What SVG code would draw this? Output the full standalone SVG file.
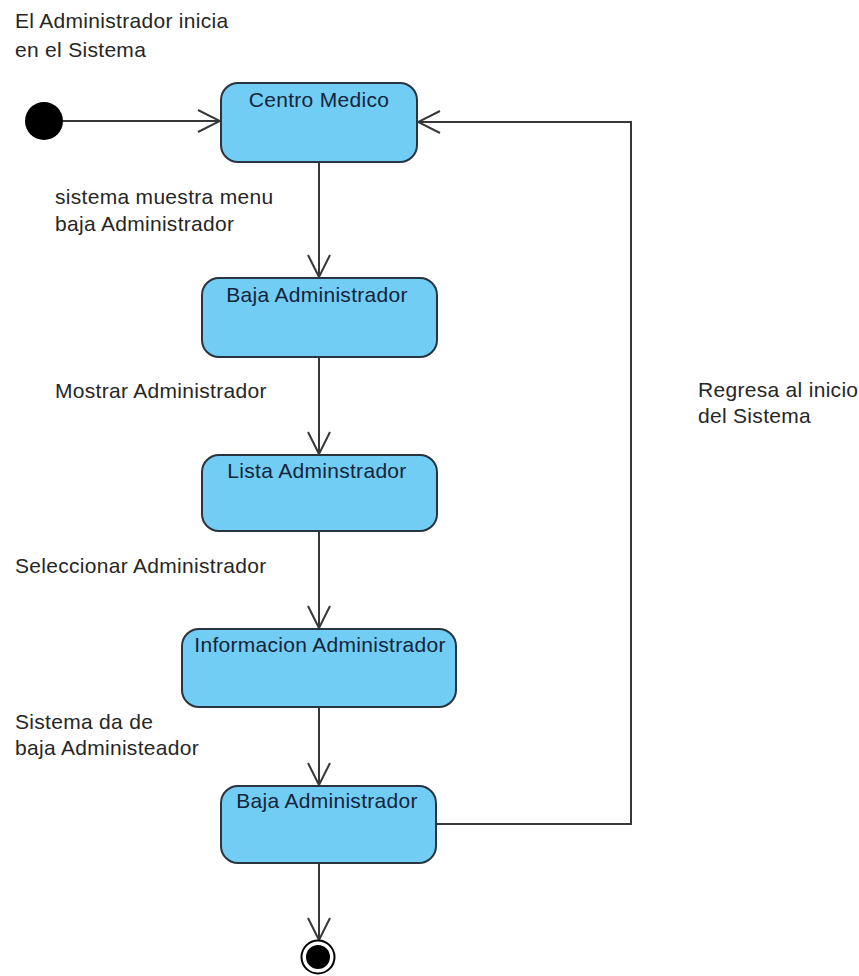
<svg xmlns="http://www.w3.org/2000/svg" width="859" height="976" viewBox="0 0 859 976">
  <style>
    .state { fill: #72cdf4; stroke: #2a3440; stroke-width: 2; }
    .state-label { font-family: "Liberation Sans", Arial, sans-serif; font-size: 21px; letter-spacing: 0.3px; fill: #14243a; text-anchor: middle; }
    .label { font-family: "Liberation Sans", Arial, sans-serif; font-size: 21px; letter-spacing: 0.3px; fill: #262626; }
    .flow { fill: none; stroke: #383838; stroke-width: 2; }
  </style>
  <defs>
    <marker id="open-arrow" viewBox="0 0 24 24" refX="23" refY="12" markerWidth="24" markerHeight="24" markerUnits="userSpaceOnUse" orient="auto">
      <path d="M1,1 L23,12 L1,23" fill="none" stroke="#383838" stroke-width="2"/>
    </marker>
  </defs>
  <rect width="859" height="976" fill="#ffffff"/>

  <!-- transitions -->
  <g id="connectors">
    <line class="flow" x1="62" y1="121" x2="220" y2="121" marker-end="url(#open-arrow)"/>
    <line class="flow" x1="319" y1="162" x2="319" y2="277" marker-end="url(#open-arrow)"/>
    <line class="flow" x1="319" y1="357" x2="319" y2="454" marker-end="url(#open-arrow)"/>
    <line class="flow" x1="319" y1="531" x2="319" y2="628" marker-end="url(#open-arrow)"/>
    <line class="flow" x1="319" y1="707" x2="319" y2="785" marker-end="url(#open-arrow)"/>
    <line class="flow" x1="319" y1="863" x2="319" y2="940" marker-end="url(#open-arrow)"/>
    <polyline class="flow" points="436,824 631,824 631,122 418,122" marker-end="url(#open-arrow)"/>
  </g>

  <!-- transition labels -->
  <g id="labels">
    <text class="label" x="15" y="28">El Administrador inicia</text>
    <text class="label" x="15" y="57">en el Sistema</text>
    <text class="label" x="55" y="204">sistema muestra menu</text>
    <text class="label" x="55" y="231">baja Administrador</text>
    <text class="label" x="55" y="398">Mostrar Administrador</text>
    <text class="label" x="15" y="573">Seleccionar Administrador</text>
    <text class="label" x="15" y="729">Sistema da de</text>
    <text class="label" x="15" y="755">baja Administeador</text>
    <text class="label" x="698" y="397">Regresa al inicio</text>
    <text class="label" x="698" y="423">del Sistema</text>
  </g>

  <g id="initial">
    <circle cx="44" cy="121" r="19" fill="#000000"/>
  </g>

  <g id="centro-medico">
    <rect class="state" x="221" y="83" width="196" height="79" rx="17" ry="17"/>
    <text class="state-label" x="319" y="107">Centro Medico</text>
  </g>

  <g id="baja-administrador-1">
    <rect class="state" x="202" y="278" width="235" height="79" rx="17" ry="17"/>
    <text class="state-label" x="317" y="302">Baja Administrador</text>
  </g>

  <g id="lista-adminstrador">
    <rect class="state" x="202" y="455" width="235" height="76" rx="17" ry="17"/>
    <text class="state-label" x="317" y="478">Lista Adminstrador</text>
  </g>

  <g id="informacion-administrador">
    <rect class="state" x="182" y="629" width="274" height="78" rx="17" ry="17"/>
    <text class="state-label" x="320" y="652">Informacion Administrador</text>
  </g>

  <g id="baja-administrador-2">
    <rect class="state" x="221" y="786" width="215" height="77" rx="17" ry="17"/>
    <text class="state-label" x="327" y="808">Baja Administrador</text>
  </g>

  <g id="final">
    <circle cx="318" cy="957" r="16.5" fill="#ffffff" stroke="#000000" stroke-width="2"/>
    <circle cx="318" cy="957" r="12" fill="#000000"/>
  </g>
</svg>
